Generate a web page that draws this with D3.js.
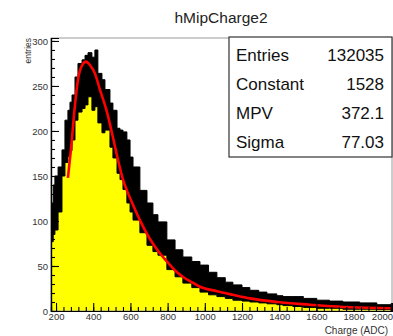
<!DOCTYPE html>
<html>
<head>
<meta charset="utf-8">
<script src="https://cdn.jsdelivr.net/npm/d3@7"></script>
<style>
  html, body { margin: 0; padding: 0; background: #fff; }
  svg { display: block; }
  text { font-family: "Liberation Sans", Arial, Helvetica, sans-serif; }
</style>
</head>
<body>
<svg id="chart" width="393" height="336"></svg>
<script>
// ---- data ----
const title = "hMipCharge2";
const xTitle = "Charge (ADC)";
const yTitle = "entries";
const xTicks = [200, 400, 600, 800, 1000, 1200, 1400, 1600, 1800, 2000];
const yTicks = [0, 50, 100, 150, 200, 250, 300];

// histogram envelope: bin position (ADC), upper edge of the fluctuating black band, lower edge (top of yellow fill)
const charge = [173,185,194,211,232,248,264,275,286,302,318,340,356,372,393,409,425,447,463,490,506,528,544,560,581,598,614,651,689,721,748,796,840,882,930,974,1020,1065,1110,1151,1200,1242,1290,1334,1387,1420,1473,1530,1602,1670,1742,1833,1925,2006];
const upper  = [120,140,150,160,179,212,223,232,240,260,275,279,284,287,282,290,264,257,246,231,223,203,201,199,190,171,160,134,120,107,99,79,68,60,55,51,43,37,32,29,26,23,21,19,17,16,16,14,12,11,10,9,7,6];
const lower  = [77,85,90,110,150,165,172,178,190,212,221,225,229,238,223,227,209,198,201,182,170,153,146,135,120,110,101,87,73,66,62,46,38,31,26,21,18,16,14,12,11,10,9,8,7,6,5,4,3,3,2,2,1.5,1.5];

// Landau fit curve
const fitX = [264,280,302,318,340,361,383,409,436,474,506,533,560,581,614,651,705,748,796,840,882,930,974,1065,1151,1242,1387,1565,1742,1925,2006];
const fitY = [148,179,229,257,273,277,273,264,246,221,193,168,146,134,118,101,80,67,55,45,38,32,27,22,18,14,10,7,4.5,3.3,3];

const statNames  = ["Entries", "Constant", "MPV", "Sigma"];
const statValues = ["132035", "1528", "372.1", "77.03"];

// ---- drawing ----
const svg = d3.select("#chart");
const W = 393, H = 336;
const frame = {left: 51, right: 392, top: 38, bottom: 311};

svg.append("rect").attr("width", W).attr("height", H).attr("fill", "#fff");

const x = d3.scaleLinear().domain([173, 2006.4]).range([frame.left, frame.right]);
const y = d3.scaleLinear().domain([0, 303.3]).range([frame.bottom, frame.top]);

const hist = charge.map((c, i) => ({c, up: upper[i], lo: lower[i]}));

const plot = svg.append("g");
plot.append("clipPath").attr("id", "clip")
  .append("rect").attr("x", frame.left).attr("y", frame.top)
  .attr("width", frame.right - frame.left).attr("height", frame.bottom - frame.top);
const g = plot.append("g").attr("clip-path", "url(#clip)");

// yellow fill up to lower envelope
g.append("path")
  .datum(hist)
  .attr("fill", "#ffff00")
  .attr("d", d3.area().curve(d3.curveStepAfter).x(d => x(d.c)).y0(y(0)).y1(d => y(d.lo)));

// black fluctuation band
g.append("path")
  .datum(hist)
  .attr("fill", "#000")
  .attr("stroke", "#000")
  .attr("stroke-width", 1)
  .attr("d", d3.area().curve(d3.curveStepAfter).x(d => x(d.c)).y0(d => y(d.lo)).y1(d => y(d.up)));

// fit curve
const fit = fitX.map((c, i) => ({c, v: fitY[i]}));
g.append("path")
  .datum(fit)
  .attr("fill", "none")
  .attr("stroke", "#ff0000")
  .attr("stroke-width", 2.6)
  .attr("stroke-linejoin", "round")
  .attr("d", d3.line().curve(d3.curveMonotoneX).x(d => x(d.c)).y(d => y(d.v)));

// frame
svg.append("rect")
  .attr("x", frame.left).attr("y", frame.top)
  .attr("width", frame.right - frame.left).attr("height", frame.bottom - frame.top)
  .attr("fill", "none").attr("stroke", "#9a9a9a").attr("stroke-width", 1);

// axes (ticks inside like ROOT)
const yMinor = d3.range(0, 301, 10);
const xMinor = d3.range(200, 2001, 40);
const fmt = d3.format("d");

svg.append("g").attr("transform", `translate(${frame.left},0)`)
  .call(d3.axisLeft(y).tickValues(yMinor).tickSize(-4).tickFormat(""));
const yAxis = svg.append("g").attr("transform", `translate(${frame.left},0)`)
  .call(d3.axisLeft(y).tickValues(yTicks).tickSize(-8).tickPadding(3).tickFormat(fmt));
svg.append("g").attr("transform", `translate(0,${frame.bottom})`)
  .call(d3.axisBottom(x).tickValues(xMinor).tickSize(-4).tickFormat(""));
const xAxis = svg.append("g").attr("transform", `translate(0,${frame.bottom})`)
  .call(d3.axisBottom(x).tickValues(xTicks).tickSize(-8).tickPadding(2).tickFormat(fmt));

svg.selectAll(".domain").attr("stroke", "#000").attr("stroke-width", 1.2);
svg.selectAll(".tick line").attr("stroke", "#000").attr("stroke-width", 1.1);
yAxis.selectAll("text").attr("font-size", "9.5px").attr("fill", "#333")
  .attr("font-family", "'Liberation Sans', Arial, sans-serif");
xAxis.selectAll("text").attr("font-size", "9.5px").attr("fill", "#333")
  .attr("font-family", "'Liberation Sans', Arial, sans-serif");
// keep the last label inside the picture
xAxis.selectAll(".tick").filter(d => d === 2000).select("text")
  .attr("text-anchor", "end").attr("x", 392.5 - x(2000));

// axis titles
svg.append("text")
  .attr("transform", `translate(31,38) rotate(-90)`)
  .attr("text-anchor", "end")
  .attr("font-size", "8.5px").attr("fill", "#333")
  .text(yTitle);
svg.append("text")
  .attr("x", 388).attr("y", 333.5)
  .attr("text-anchor", "end")
  .attr("font-size", "10px").attr("fill", "#333")
  .text(xTitle);

// title
svg.append("text")
  .attr("x", 221).attr("y", 23)
  .attr("text-anchor", "middle")
  .attr("font-size", "15.5px").attr("fill", "#222")
  .text(title);

// stats box
const box = {x: 229, y: 37, w: 163, h: 120};
svg.append("rect")
  .attr("x", box.x).attr("y", box.y).attr("width", box.w).attr("height", box.h)
  .attr("fill", "#fff").attr("stroke", "#333").attr("stroke-width", 1.2);
const rowY = d3.scalePoint().domain(statNames).range([61, 148]);
statNames.forEach((n, i) => {
  svg.append("text").attr("x", 236).attr("y", rowY(n))
    .attr("font-size", "17px").attr("fill", "#111").text(n);
  svg.append("text").attr("x", 384).attr("y", rowY(n))
    .attr("text-anchor", "end")
    .attr("font-size", "17px").attr("fill", "#111").text(statValues[i]);
});
</script>
</body>
</html>
